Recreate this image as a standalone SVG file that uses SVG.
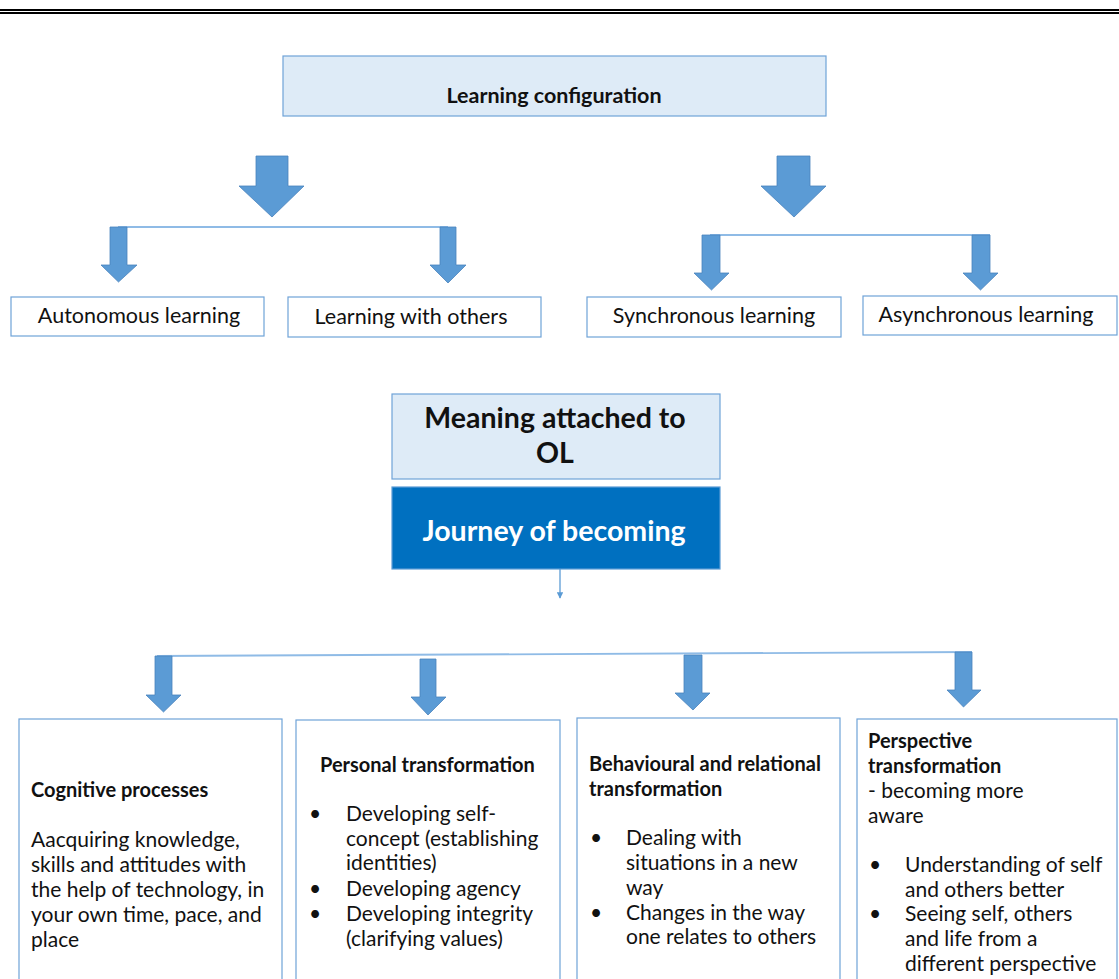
<svg xmlns="http://www.w3.org/2000/svg" width="1119" height="979" viewBox="0 0 1119 979">
  <defs>
    <style>
      .t { font-family: Lato, "Liberation Sans", sans-serif; fill: #111; }
      .b { font-weight: bold; }
      .box { fill: #ffffff; stroke: #6fa3d8; stroke-width: 1.2; }
      .pale { fill: #deebf7; stroke: #6fa3d8; stroke-width: 1.2; }
      .dark { fill: #0070c0; stroke: #5b9bd5; stroke-width: 1.2; }
      .arrow { fill: #5b9bd5; stroke: #4a83bd; stroke-width: 0.8; }
      .link { fill: none; stroke: #8fbbe6; stroke-width: 1.8; }
      .body { font-size: 21px; }
      .head { font-size: 20px; }
    </style>
    <marker id="tip" viewBox="0 0 10 10" refX="9" refY="5" markerWidth="5" markerHeight="5" orient="auto">
      <path d="M0,0 L10,5 L0,10 z" fill="#5b9bd5"/>
    </marker>
  </defs>

  <!-- page rule -->
  <rect x="0" y="9" width="1119" height="2" fill="#000"/>
  <rect x="0" y="12" width="1119" height="2" fill="#000"/>

  <!-- connectors -->
  <g id="connectors">
    <line class="link" x1="118" y1="227" x2="448" y2="227"/>
    <line class="link" x1="710" y1="235" x2="990" y2="235"/>
    <line stroke="#5b9bd5" stroke-width="1.3" x1="560" y1="569" x2="560" y2="598" marker-end="url(#tip)"/>
    <line class="link" x1="157" y1="656" x2="972" y2="652"/>

    <!-- block arrows -->
    <path class="arrow" d="M256,156 H288 V186 H304 L272,217 L239,186 H256 Z"/>
    <path class="arrow" d="M110,227 H127 V265 H137 L118.5,282 L101,265 H110 Z"/>
    <path class="arrow" d="M440,227 H456 V265 H466 L448,283 L430,265 H440 Z"/>

    <path class="arrow" d="M777,156 H810 V186 H826 L794,217 L761,186 H777 Z"/>
    <path class="arrow" d="M702,235 H720 V273 H729 L711.5,290 L694,273 H702 Z"/>
    <path class="arrow" d="M972,235 H990 V273 H998 L980.5,290 L963,273 H972 Z"/>

    <path class="arrow" d="M155,656 H172 V695 H181 L163.5,712 L146,695 H155 Z"/>
    <path class="arrow" d="M420,659 H436 V697 H446 L428,715 L411,697 H420 Z"/>
    <path class="arrow" d="M684,655 H702 V693 H710 L693,710 L675,693 H684 Z"/>
    <path class="arrow" d="M955,652 H972 V690 H981 L963.5,707 L947,690 H955 Z"/>
  </g>

  <g id="learning-configuration">
    <rect class="pale" x="283" y="56" width="543" height="60"/>
    <text class="t b" x="554" y="103" font-size="21.5" text-anchor="middle">Learning configuration</text>
  </g>

  <g id="autonomous">
    <rect class="box" x="11" y="297" width="253" height="39"/>
    <text class="t" x="139" y="323" font-size="21.5" text-anchor="middle">Autonomous learning</text>
  </g>
  <g id="with-others">
    <rect class="box" x="288" y="297" width="253" height="40"/>
    <text class="t" x="411" y="324" font-size="21.5" text-anchor="middle">Learning with others</text>
  </g>
  <g id="synchronous">
    <rect class="box" x="587" y="297" width="254" height="40"/>
    <text class="t" x="714" y="323" font-size="21.5" text-anchor="middle">Synchronous learning</text>
  </g>
  <g id="asynchronous">
    <rect class="box" x="863" y="296" width="254" height="39"/>
    <text class="t" x="986" y="322" font-size="21.5" text-anchor="middle">Asynchronous learning</text>
  </g>

  <g id="meaning">
    <rect class="pale" x="392" y="394" width="328" height="85"/>
    <text class="t b" x="555" y="428" font-size="28.5" text-anchor="middle">Meaning attached to</text>
    <text class="t b" x="555" y="463" font-size="28.5" text-anchor="middle">OL</text>
  </g>
  <g id="journey">
    <rect class="dark" x="392" y="487" width="328" height="82"/>
    <text class="t b" x="554" y="541" font-size="28.5" text-anchor="middle" style="fill:#ffffff">Journey of becoming</text>
  </g>

  <g id="cognitive">
    <rect class="box" x="19" y="719" width="263" height="270"/>
    <text class="t b head" x="31" y="797">Cognitive processes</text>
    <text class="t body">
      <tspan x="31" y="847">Aacquiring knowledge,</tspan>
      <tspan x="31" y="872">skills and attitudes with</tspan>
      <tspan x="31" y="897">the help of technology, in</tspan>
      <tspan x="31" y="922">your own time, pace, and</tspan>
      <tspan x="31" y="947">place</tspan>
    </text>
  </g>

  <g id="personal">
    <rect class="box" x="296" y="720" width="264" height="270"/>
    <text class="t b head" x="320" y="772">Personal transformation</text>
    <text class="t body">
      <tspan x="309" y="821">•</tspan>
      <tspan x="346" y="821">Developing self-</tspan>
      <tspan x="346" y="846">concept (establishing</tspan>
      <tspan x="346" y="870">identities)</tspan>
      <tspan x="309" y="896">•</tspan>
      <tspan x="346" y="896">Developing agency</tspan>
      <tspan x="309" y="921">•</tspan>
      <tspan x="346" y="921">Developing integrity</tspan>
      <tspan x="346" y="946">(clarifying values)</tspan>
    </text>
  </g>

  <g id="behavioural">
    <rect class="box" x="577" y="718" width="263" height="270"/>
    <text class="t b head">
      <tspan x="589" y="771">Behavioural and relational</tspan>
      <tspan x="589" y="796">transformation</tspan>
    </text>
    <text class="t body">
      <tspan x="590" y="845">•</tspan>
      <tspan x="626" y="845">Dealing with</tspan>
      <tspan x="626" y="870">situations in a new</tspan>
      <tspan x="626" y="895">way</tspan>
      <tspan x="590" y="920">•</tspan>
      <tspan x="626" y="920">Changes in the way</tspan>
      <tspan x="626" y="944">one relates to others</tspan>
    </text>
  </g>

  <g id="perspective">
    <rect class="box" x="857" y="719" width="260" height="270"/>
    <text class="t b head">
      <tspan x="868" y="748">Perspective</tspan>
      <tspan x="868" y="773">transformation</tspan>
    </text>
    <text class="t body">
      <tspan x="868" y="798">- becoming more</tspan>
      <tspan x="868" y="823">aware</tspan>
      <tspan x="869" y="872">•</tspan>
      <tspan x="905" y="872">Understanding of self</tspan>
      <tspan x="905" y="897">and others better</tspan>
      <tspan x="869" y="921">•</tspan>
      <tspan x="905" y="921">Seeing self, others</tspan>
      <tspan x="905" y="946">and life from a</tspan>
      <tspan x="905" y="971">different perspective</tspan>
    </text>
  </g>
</svg>
